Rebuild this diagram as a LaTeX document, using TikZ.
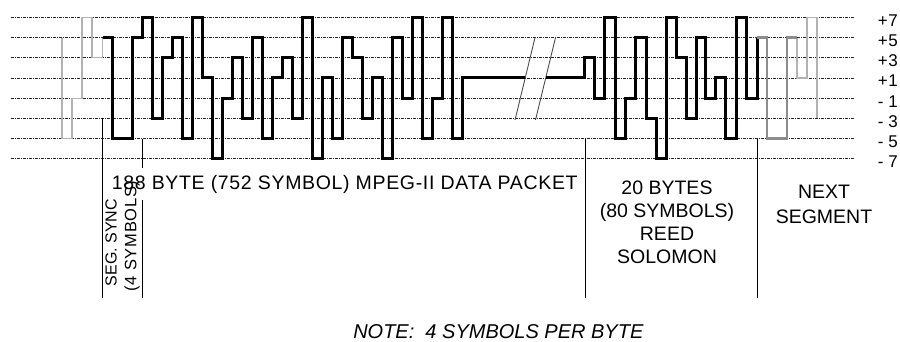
\documentclass[tikz,border=0pt]{standalone}
\usepackage{fontspec}
\setmainfont{Liberation Sans}
\def\lvA{17.4}  % +7
\def\lvB{37.6}  % +5
\def\lvC{57.8}  % +3
\def\lvD{78.0}  % +1
\def\lvE{98.2}  % -1
\def\lvF{118.4} % -3
\def\lvG{138.6} % -5
\def\lvH{158.8} % -7
\begin{document}
\begin{tikzpicture}[x=1pt,y=-1pt,
  gridline/.style={draw=black!85, line width=0.8pt, dash pattern=on 3pt off 1pt on 1pt off 1pt},
  wave/.style={draw=black, line width=3pt, line join=miter},
  syncgray/.style={draw=black!45, line width=2.6pt, line join=miter},
  tailgray/.style={draw=black!30, line width=1.3pt},
  marker/.style={draw=black, line width=0.9pt},
  brk/.style={draw=black!70, line width=0.9pt},
  lbl/.style={inner sep=0pt, font=\fontsize{19.5}{23}\selectfont},
  vlbl/.style={inner sep=0pt, font=\fontsize{16}{19}\selectfont, rotate=90, anchor=base},
  lvl/.style={inner sep=0pt, font=\fontsize{17}{20}\selectfont, anchor=base east}]
\useasboundingbox (0,0) rectangle (900,342);

% level lines and labels
\foreach \yy/\sg/\dg [count=\i] in {\lvA/+/7,\lvB/+/5,\lvC/+/3,\lvD/+/1,\lvE/-/1,\lvF/-/3,\lvG/-/5,\lvH/-/7}{
  \draw[gridline] (11,\yy) -- (855,\yy);
  \node[lvl] (lab\i) at (898,\yy+9) {\makebox[0.62em][l]{\sg}\dg};
}

% break marks
\coordinate (s1a) at (515,120);
\coordinate (s1b) at (535,37.6);
\coordinate (s2a) at (535.5,120);
\coordinate (s2b) at (555.5,37.6);
\coordinate (b1) at (525.2,\lvD);
\coordinate (b2) at (545.7,\lvD);
\draw[brk] (s1a) -- (s1b);
\draw[brk] (s2a) -- (s2b);

% previous segment tail
\draw[tailgray] (62,\lvB) -- (62,\lvG) -| (72,\lvE) -| (82,\lvA) -| (92,\lvC) -| (102.5,\lvB);

% data segment
\draw[wave] (102.5,\lvB) -| (112.5,\lvG) -| (132.5,\lvB) -| (142.5,\lvA) -| (152.5,\lvF)
  -| (162.5,\lvC) -| (172.5,\lvB) -| (182.5,\lvG) -| (192.5,\lvA) -| (202.5,\lvD)
  -| (212.5,\lvH) -| (222.5,\lvE) -| (232.5,\lvC) -| (242.5,\lvF) -| (252.5,\lvB)
  -| (262.5,\lvG) -| (272.5,\lvD) -| (282.5,\lvC) -| (292.5,\lvF) -| (302.5,\lvA)
  -| (312.5,\lvH) -| (322.5,\lvD) -| (332.5,\lvG) -| (342.5,\lvB) -| (352.5,\lvC)
  -| (362.5,\lvF) -| (372.5,\lvD) -| (382.5,\lvH) -| (392.5,\lvB) -| (402.5,\lvE)
  -| (412.5,\lvA) -| (422.5,\lvG) -| (432.5,\lvE) -| (442.5,\lvA) -| (452.5,\lvG)
  -| (462.5,\lvD) -- (b1);
\draw[wave] (b2) -| (584,\lvC) -| (594,\lvE) -| (604.5,\lvA) -| (615,\lvG) -| (625,\lvE)
  -| (635.5,\lvB) -| (646,\lvF) -| (656.5,\lvH) -| (666.5,\lvA) -| (676,\lvC)
  -| (686,\lvF) -| (696,\lvB) -| (705.5,\lvE) -| (715.5,\lvD) -| (725.5,\lvG)
  -| (736,\lvA) -| (746.5,\lvE) -| (757,\lvB);

% next segment
\draw[tailgray] (797,\lvB) -- (797,\lvD) -| (807,\lvA) -| (817,\lvF);
\draw[syncgray] (757,\lvB) -| (767,\lvG) -| (787,\lvB) -- (797,\lvB);

% markers
\coordinate (m1) at (102.5,\lvF);
\coordinate (m2) at (142.5,\lvG);
\coordinate (m3) at (585,\lvG);
\coordinate (m4) at (757.5,\lvG);
\draw[marker] (m1) -- (102.5,298);
\draw[marker] (m2) -- (142.5,168);
\draw[marker] (142.5,200) -- (142.5,298);
\draw[marker] (m3) -- (585,298);
\draw[marker] (m4) -- (757.5,298);

% texts
\node[lbl, anchor=base west] (pkt) at (111.7,189.3)
  {\addfontfeature{LetterSpace=3.4}188 BYTE (752 SYMBOL) MPEG-II DATA PACKET};
\node[vlbl] (seg) at (116.5,242.5) {SEG. SYNC};
\node[vlbl, font=\fontsize{16.5}{19}\selectfont] (four) at (136.3,236)
  {\addfontfeature{LetterSpace=4}(4 SYMBOLS)};
\node[lbl, align=center, anchor=base, font=\fontsize{19.5}{22.8}\selectfont] (rs) at (667,263.3)
  {20 BYTES\\(80 SYMBOLS)\\REED\\SOLOMON};
\node[lbl, align=center, anchor=base, font=\fontsize{19.5}{25}\selectfont] (nxt) at (824,223.3)
  {NEXT\\SEGMENT};
\node[inner sep=0pt, anchor=base, font=\fontsize{20}{24}\selectfont\itshape] (note) at (498.3,338.5)
  {NOTE:\ \ 4 SYMBOLS PER BYTE};
\end{tikzpicture}
\end{document}
